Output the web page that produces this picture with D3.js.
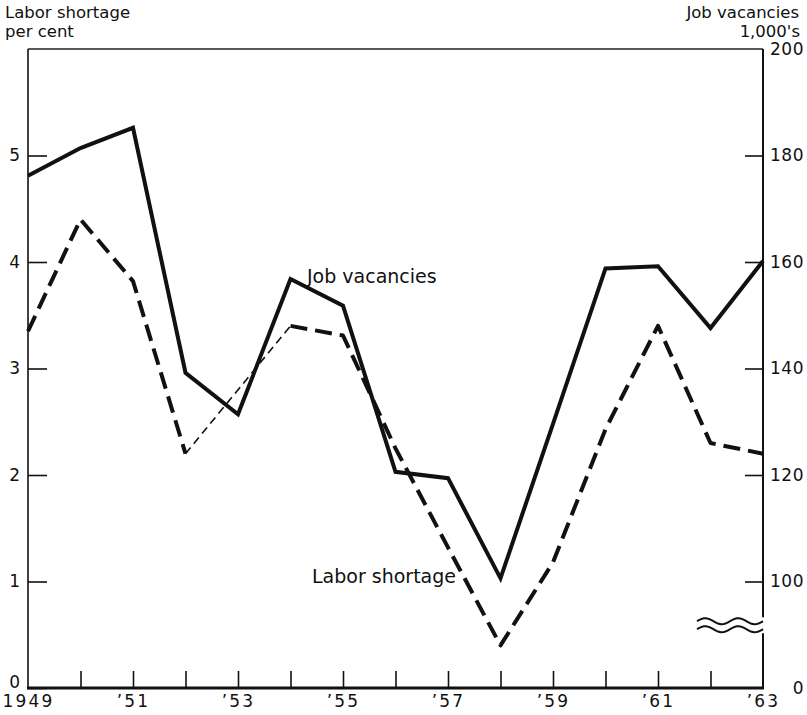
<!DOCTYPE html>
<html>
<head>
<meta charset="utf-8">
<script src="https://cdn.jsdelivr.net/npm/d3@7"></script>
<style>
  html, body { margin: 0; padding: 0; background: #fff; }
  svg { display: block; }
  text { font-family: "DejaVu Sans", sans-serif; fill: #111; }
</style>
</head>
<body>
<svg id="chart" width="807" height="715"></svg>
<script>
// ---- data ----
const years = [1949,1950,1951,1952,1953,1954,1955,1956,1957,1958,1959,1960,1961,1962,1963];
// Job vacancies, thousands (right axis)
const jobVacancies = [176.2,181.4,185.2,139.2,131.4,156.8,151.8,120.6,119.4,100.6,129.6,158.8,159.2,147.6,160.2];
// Labor shortage, per cent (left axis); 1953 not available
const laborShortage = [3.35,4.40,3.82,2.20,null,3.40,3.31,2.25,1.32,0.40,1.18,2.43,3.40,2.30,2.20];
const leftTicks = [0,1,2,3,4,5];
const rightTicks = [80,100,120,140,160,180,200];
const rightTickLabels = ["0","100","120","140","160","180","200"];
const xLabelYears = [1949,1951,1953,1955,1957,1959,1961,1963];
const xTickLabels = ["1949","\u201951","\u201953","\u201955","\u201957","\u201959","\u201961","\u201963"];

// ---- layout ----
const L = 28, R = 763, T = 49, B = 688;
const svg = d3.select("#chart");
const x = d3.scaleLinear().domain([1949,1963]).range([L,R]);
const yL = d3.scaleLinear().domain([0,6]).range([B,T]);
const yR = d3.scaleLinear().domain([80,200]).range([B,T]);

// top frame line
svg.append("line").attr("x1",L).attr("x2",R).attr("y1",T).attr("y2",T)
  .attr("stroke","#222").attr("stroke-width",1.5);

// left axis
const gL = svg.append("g").attr("transform",`translate(${L},0)`)
  .call(d3.axisLeft(yL).tickValues(leftTicks).tickSize(-19).tickSizeOuter(0).tickPadding(8).tickFormat(d3.format("d")));
gL.select(".domain").remove();
gL.selectAll(".tick line").attr("stroke","#111").attr("stroke-width",1.6);
gL.selectAll(".tick text").style("font-size","17px");
gL.selectAll(".tick text").filter(d => d===0).attr("dy","-0.05em");
svg.append("line").attr("x1",L).attr("x2",L).attr("y1",T).attr("y2",B).attr("stroke","#111").attr("stroke-width",1.6);

// right axis
const gR = svg.append("g").attr("transform",`translate(${R},0)`)
  .call(d3.axisRight(yR).tickValues(rightTicks).tickSize(-18).tickSizeOuter(0)
    .tickFormat((d,i)=>rightTickLabels[i]));
gR.select(".domain").remove();
gR.selectAll(".tick line").attr("stroke","#111").attr("stroke-width",1.6)
  .filter(d => d===80 || d===200).remove();
gR.selectAll(".tick text").attr("text-anchor","end").attr("x",41).style("font-size","17px").style("letter-spacing","0.5px");

// right axis line with break
const brkY = yR(91.6);
svg.append("line").attr("x1",R).attr("x2",R).attr("y1",T).attr("y2",brkY-9).attr("stroke","#111").attr("stroke-width",2);
svg.append("line").attr("x1",R).attr("x2",R).attr("y1",brkY+7).attr("y2",B).attr("stroke","#111").attr("stroke-width",2);
// break waves
function wave(y0){
  const pts = d3.range(0,67,1).map(i => [R-66+i, y0 + 3*Math.sin(i/66*2*Math.PI*2 + Math.PI)]);
  return d3.line().curve(d3.curveBasis)(pts);
}
svg.append("path").attr("d",wave(brkY-5)).attr("fill","none").attr("stroke","#111").attr("stroke-width",2);
svg.append("path").attr("d",wave(brkY+3)).attr("fill","none").attr("stroke","#111").attr("stroke-width",2);

// bottom axis
const gB = svg.append("g").attr("transform",`translate(0,${B})`)
  .call(d3.axisBottom(x).tickValues(years).tickSize(-17).tickSizeOuter(0).tickPadding(7)
    .tickFormat(d => { const k = xLabelYears.indexOf(d); return k>=0 ? xTickLabels[k] : ""; }));
gB.select(".domain").remove();
gB.selectAll(".tick line").attr("stroke","#111").attr("stroke-width",1.6)
  .filter(d => d===1949 || d===1963).remove();
gB.selectAll(".tick text").style("font-size","17px").style("letter-spacing","2.2px");
svg.append("line").attr("x1",L-1).attr("x2",R+1).attr("y1",B).attr("y2",B).attr("stroke","#111").attr("stroke-width",3);

// job vacancies line (solid)
const jv = years.map((y,i)=>({year:y, v:jobVacancies[i]}));
svg.append("path").datum(jv)
  .attr("d", d3.line().x(d=>x(d.year)).y(d=>yR(d.v)))
  .attr("fill","none").attr("stroke","#111").attr("stroke-width",4).attr("stroke-linejoin","miter");

// labor shortage (dashed) with gap
const ls = years.map((y,i)=>({year:y, v:laborShortage[i]}));
svg.append("path").datum(ls)
  .attr("d", d3.line().defined(d=>d.v!=null).x(d=>x(d.year)).y(d=>yL(d.v)))
  .attr("fill","none").attr("stroke","#111").attr("stroke-width",4)
  .attr("stroke-dasharray","17,8").attr("stroke-linejoin","round");
// thin dashed connector across missing year
ls.forEach((d,i)=>{
  if (d.v==null && i>0 && i<ls.length-1) {
    const a = ls[i-1], b = ls[i+1];
    svg.append("line").attr("x1",x(a.year)).attr("y1",yL(a.v)).attr("x2",x(b.year)).attr("y2",yL(b.v))
      .attr("stroke","#111").attr("stroke-width",1.6).attr("stroke-dasharray","8,5");
  }
});

// titles
svg.append("text").attr("x",5).attr("y",18).style("font-size","16.5px").text("Labor shortage");
svg.append("text").attr("x",5).attr("y",37).style("font-size","16.5px").text("per cent");
svg.append("text").attr("x",799).attr("y",18).attr("text-anchor","end").style("font-size","16.5px").text("Job vacancies");
svg.append("text").attr("x",800).attr("y",37).attr("text-anchor","end").style("font-size","16.5px").text("1,000's");

// series labels
svg.append("text").attr("x",307).attr("y",283).style("font-size","19px").text("Job vacancies");
svg.append("text").attr("x",312).attr("y",583).style("font-size","19px").text("Labor shortage");
</script>
</body>
</html>
